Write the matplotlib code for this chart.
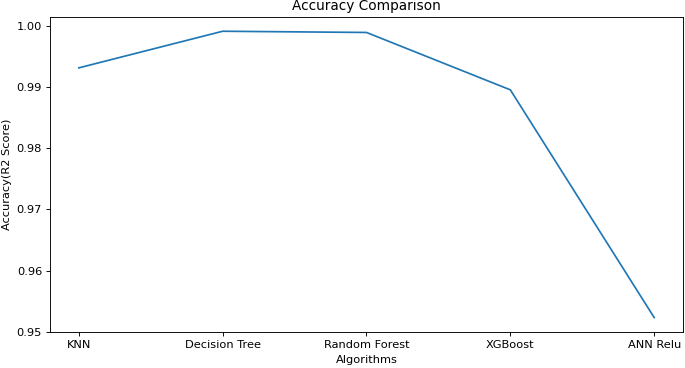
import matplotlib
matplotlib.use("Agg")
import matplotlib.pyplot as plt

# Dados
algoritmos = ["KNN", "Decision Tree", "Random Forest", "XGBoost", "ANN Relu"]
acuracia = [0.9932, 0.9992, 0.9990, 0.9896, 0.9523]

dpi = 82
fig = plt.figure(figsize=(685 / dpi, 368 / dpi), dpi=dpi)
ax = fig.add_subplot(111)
fig.subplots_adjust(left=0.073, right=0.997, top=0.954, bottom=0.099)

ax.plot(algoritmos, acuracia)
ax.set_ylim(bottom=0.95)
ax.set_title("Accuracy Comparison")
ax.set_xlabel("Algorithms", labelpad=5)
ax.set_ylabel("Accuracy(R2 Score)")

fig.savefig("out.png", dpi=dpi)
